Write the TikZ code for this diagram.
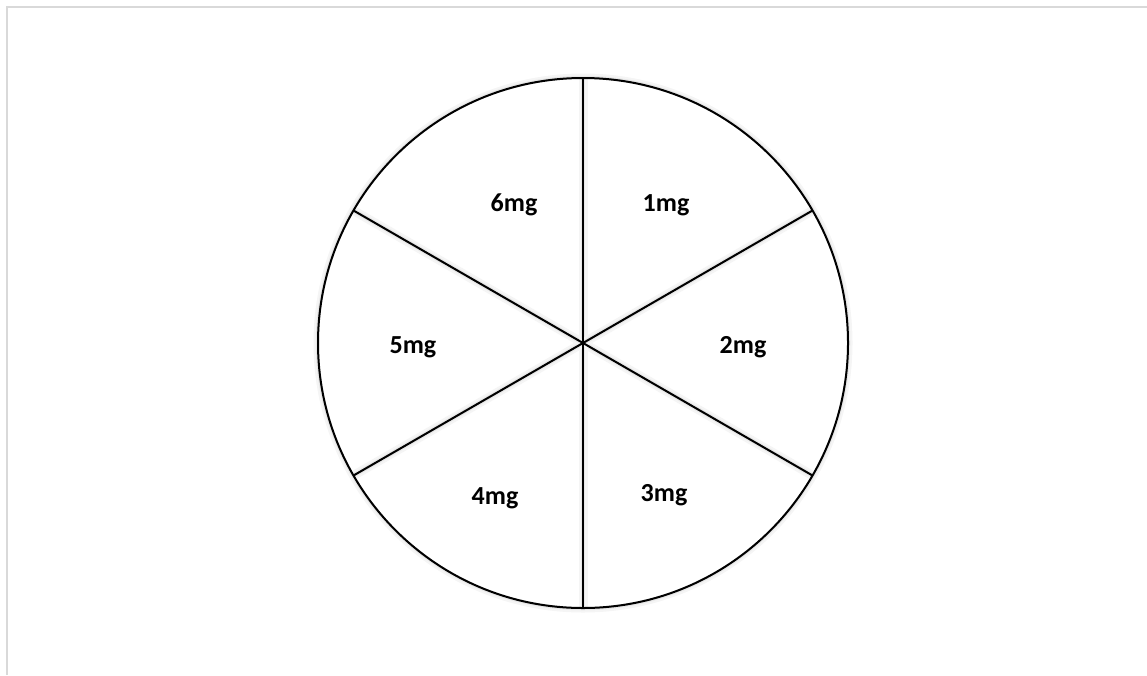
\documentclass[tikz,border=0pt]{standalone}
\usepackage{fontspec}
\setmainfont{Carlito}
\tikzset{
    glow/.style={line width=9pt,black!4},
    glowin/.style={line width=4.5pt,black!9},
    rim/.style={line width=2pt},
    dose/.style={font=\fontsize{26}{30}\selectfont\bfseries}
}
\begin{document}
\begin{tikzpicture}[x=1pt,y=-1pt]
    \useasboundingbox (0,0) rectangle (1147,675);
    % page frame
    \draw[black!15,line width=2pt] (7,675) -- (7,7) -- (1147,7);
    \coordinate (c) at (583,343);
    % soft shadow
    \draw[glow] (c) circle (265pt);
    \draw[glowin] (c) circle (265pt);
    \fill[white] (c) circle (264pt);
    \foreach \a in {30,90,...,330} {
        \draw[glow] (c) -- ++(\a:265);
        \draw[glowin] (c) -- ++(\a:265);
    }
    % wheel
    \draw[rim] (c) circle (265pt);
    \foreach \a in {30,90,...,330} {
        \draw[rim] (c) -- ++(\a:265);
    }
    \node[dose] (d1) at (666,205) {1mg};
    \node[dose] (d2) at (743,347) {2mg};
    \node[dose] (d3) at (664,495) {3mg};
    \node[dose] (d4) at (495,498) {4mg};
    \node[dose] (d5) at (413,347) {5mg};
    \node[dose] (d6) at (514,205) {6mg};
\end{tikzpicture}
\end{document}
